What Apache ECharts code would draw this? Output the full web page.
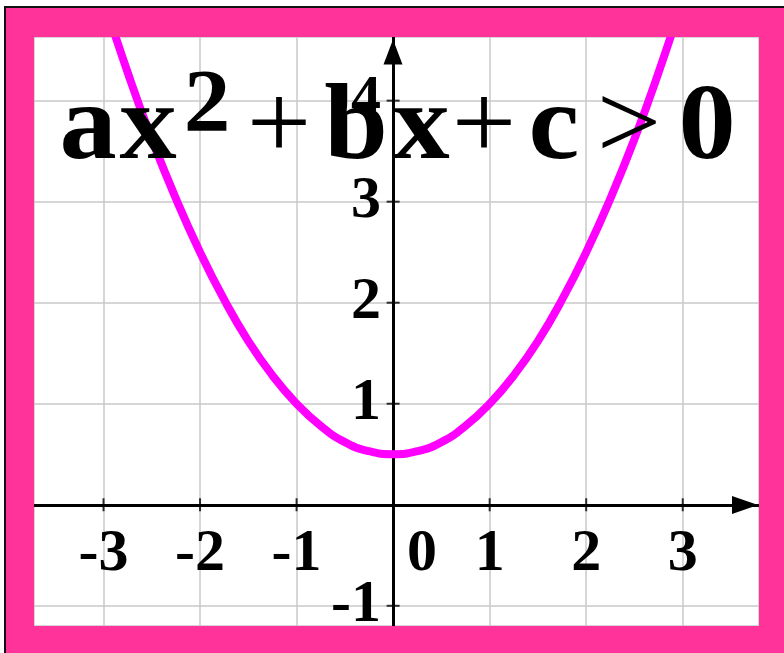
<!DOCTYPE html>
<html>
<head>
<meta charset="utf-8">
<script src="https://cdn.jsdelivr.net/npm/echarts@6/dist/echarts.min.js"></script>
<style>
  html, body { margin: 0; padding: 0; background: #fff; }
  #chart { width: 784px; height: 653px; }
</style>
</head>
<body>
<div id="chart"></div>
<script>
  // parabola
  const curveX = [-3, -2.75, -2.5, -2.25, -2, -1.75, -1.5, -1.25, -1, -0.75, -0.5, -0.25, 0,
                  0.25, 0.5, 0.75, 1, 1.25, 1.5, 1.75, 2, 2.25, 2.5, 2.75, 3];
  const curveY = [5, 4.28, 3.62, 3.03, 2.5, 2.03, 1.62, 1.28, 1, 0.78, 0.62, 0.53, 0.5,
                  0.53, 0.62, 0.78, 1, 1.28, 1.62, 2.03, 2.5, 3.03, 3.62, 4.28, 5];

  // tick labels / tick marks
  const xLabelValues = [-3, -2, -1, 0, 1, 2, 3];
  const yLabelValues = [-1, 1, 2, 3, 4];
  const xTickMarks = [-3, -2, -1, 1, 2, 3];
  const yTickMarks = [-1, 1, 2, 3, 4];

  // formula text, one glyph per piece
  const formulaText = ['a', 'x', '2', '+', 'b', 'x', '+', 'c', '>', '0'];

  const PINK = '#ff3399';
  const SERIF = '"Liberation Serif", "Times New Roman", serif';

  // layout of the formula glyphs: center x, middle y, size, weight
  const formulaLayout = [
    [88, 130, 108, 'bold'],
    [148, 130, 108, 'bold'],
    [207, 107, 88, 'bold'],
    [279, 130, 108, 'normal'],
    [356, 130, 108, 'bold'],
    [421, 130, 108, 'bold'],
    [484, 130, 108, 'normal'],
    [554, 130, 108, 'bold'],
    [629, 130, 108, 'normal'],
    [707, 130, 108, 'bold']
  ];

  const chart = echarts.init(document.getElementById('chart'));

  let graphics = [];
  // pink frame + black border (on top, covers edges of grid)
  graphics.push({ type: 'rect', z: 100, shape: { x: 6, y: 8, width: 28, height: 645 }, style: { fill: PINK } });
  graphics.push({ type: 'rect', z: 100, shape: { x: 6, y: 8, width: 778, height: 29 }, style: { fill: PINK } });
  graphics.push({ type: 'rect', z: 100, shape: { x: 759, y: 8, width: 25, height: 645 }, style: { fill: PINK } });
  graphics.push({ type: 'rect', z: 100, shape: { x: 6, y: 626, width: 778, height: 27 }, style: { fill: PINK } });
  graphics.push({ type: 'line', z: 101, shape: { x1: 5, y1: 6, x2: 5, y2: 653 }, style: { stroke: '#111', lineWidth: 2 } });
  graphics.push({ type: 'line', z: 101, shape: { x1: 4, y1: 7, x2: 784, y2: 7 }, style: { stroke: '#111', lineWidth: 2 } });

  for (let i = 0; i < formulaText.length; i++) {
    const l = formulaLayout[i];
    graphics.push({
      type: 'text',
      z: 50,
      x: l[0],
      y: l[1],
      scaleX: 1.06,
      style: {
        text: formulaText[i],
        fontFamily: SERIF,
        fontSize: l[2],
        fontWeight: l[3],
        fill: '#000',
        align: 'center',
        verticalAlign: 'middle',
        textAlign: 'center',
        textVerticalAlign: 'middle'
      }
    });
  }

  const labelStyle = {
    fontFamily: SERIF,
    fontSize: 60,
    fontWeight: 'bold',
    color: '#000'
  };

  const option = {
    backgroundColor: '#fff',
    animation: false,
    grid: { left: 34, top: 37, right: 25, bottom: 27, containLabel: false, outerBoundsMode: 'none' },
    xAxis: {
      type: 'value',
      min: -3.72,
      max: 3.79,
      splitNumber: 8,
      minInterval: 1,
      maxInterval: 1,
      position: 'bottom',
      offset: -121,
      axisLine: {
        onZero: false,
        lineStyle: { color: '#000', width: 3 },
        symbol: ['none', 'triangle'],
        symbolSize: [18, 26],
        symbolOffset: [0, -14]
      },
      axisTick: { show: false },
      splitLine: { show: true, lineStyle: { color: '#c8c8c8', width: 1.5 } },
      axisLabel: Object.assign({
        customValues: xLabelValues,
        margin: 19,
        hideOverlap: false,
        formatter: function (v) { return v === 0 ? '{z|0}' : String(v); },
        rich: { z: Object.assign({ padding: [0, 0, 0, 58] }, labelStyle) }
      }, labelStyle)
    },
    yAxis: {
      type: 'value',
      min: -1.2,
      max: 4.63,
      splitNumber: 6,
      minInterval: 1,
      maxInterval: 1,
      position: 'left',
      offset: -359,
      axisLine: {
        onZero: false,
        lineStyle: { color: '#000', width: 3 },
        symbol: ['none', 'triangle'],
        symbolSize: [19, 25],
        symbolOffset: [0, -15]
      },
      axisTick: { show: false },
      splitLine: { show: true, lineStyle: { color: '#c8c8c8', width: 1.5 } },
      axisLabel: Object.assign({
        customValues: yLabelValues,
        margin: 12,
        hideOverlap: false
      }, labelStyle)
    },
    graphic: graphics,
    series: [
      {
        type: 'line',
        data: curveX.map((x, i) => [x, curveY[i]]),
        smooth: true,
        showSymbol: false,
        symbol: 'none',
        clip: true,
        z: 5,
        lineStyle: { color: '#ff00ff', width: 8 }
      },
      {
        type: 'scatter',
        silent: true,
        symbol: 'rect',
        symbolSize: [2, 13],
        itemStyle: { color: '#000' },
        z: 4,
        data: xTickMarks.map(v => [v, 0])
      },
      {
        type: 'scatter',
        silent: true,
        symbol: 'rect',
        symbolSize: [13, 2],
        itemStyle: { color: '#000' },
        z: 4,
        data: yTickMarks.map(v => [0, v])
      }
    ]
  };

  chart.setOption(option);
  window.addEventListener('resize', function () {
    chart.resize();
  });
</script>
</body>
</html>
